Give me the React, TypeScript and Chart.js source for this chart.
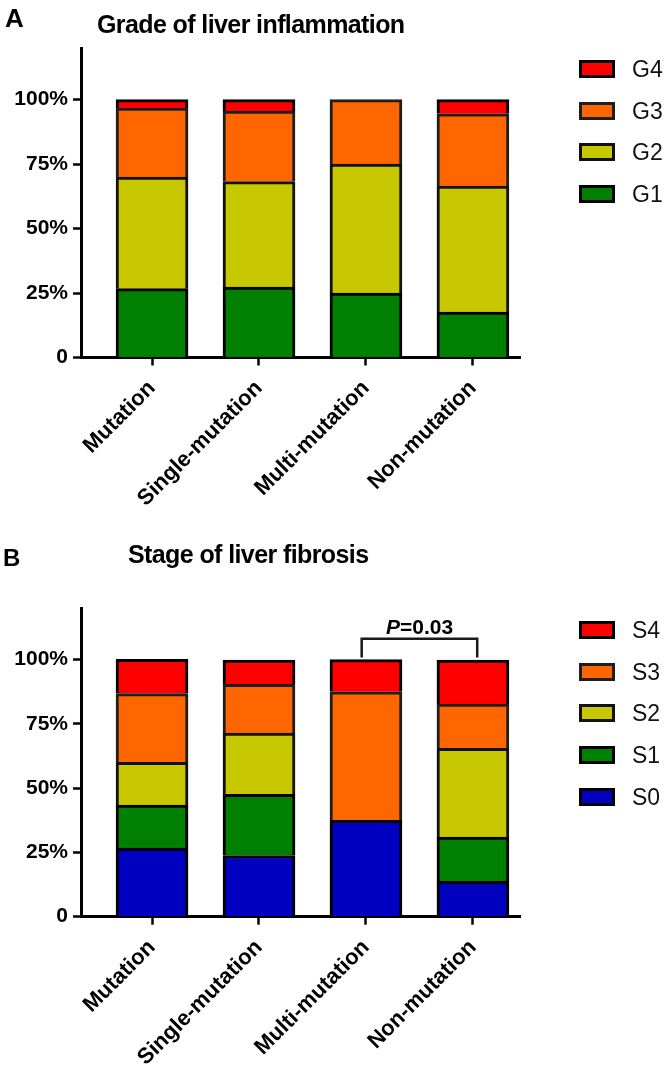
import React, { useEffect, useRef } from "react";
import { Chart, registerables } from "chart.js";

Chart.register(...registerables);

const categories = ["Mutation", "Single-mutation", "Multi-mutation", "Non-mutation"];
const yTickValues = [0, 25, 50, 75, 100];

// Panel A: grade of liver inflammation (%)
const gradeLabels = ["G1", "G2", "G3", "G4"];
const gradeG1 = [26.7, 27.3, 25.0, 17.6];
const gradeG2 = [43.3, 40.9, 50.0, 48.9];
const gradeG3 = [26.7, 27.3, 25.0, 28.0];
const gradeG4 = [3.3, 4.5, 0, 5.5];

// Panel B: stage of liver fibrosis (%)
const stageLabels = ["S0", "S1", "S2", "S3", "S4"];
const stageS0 = [26.7, 23.8, 37.5, 13.8];
const stageS1 = [16.7, 23.8, 0, 17.2];
const stageS2 = [16.7, 23.8, 0, 34.5];
const stageS3 = [26.7, 19.0, 50.0, 17.2];
const stageS4 = [13.3, 9.5, 12.5, 17.2];

const pValueText = "=0.03";

const RED = "#ff0000";
const ORANGE = "#ff6600";
const YELLOW = "#c8c800";
const GREEN = "#008000";
const BLUE = "#0000c0";

const gradeColors = [GREEN, YELLOW, ORANGE, RED];
const stageColors = [BLUE, GREEN, YELLOW, ORANGE, RED];
const borderCols: Record<string, string> = {
  [RED]: "#000000",
  [ORANGE]: "#1e1e1e",
  [YELLOW]: "#111111",
  [GREEN]: "#000000",
  [BLUE]: "#000000",
};

const FONT = '"Liberation Sans", Arial, Helvetica, sans-serif';

function makeDatasets(labels: string[], series: number[][], colors: string[]) {
  return labels.map((lab, k) => ({
    label: lab,
    data: series[k].map((v, i) => ({ x: i, y: v })),
    backgroundColor: colors[k],
    borderColor: borderCols[colors[k]],
    borderWidth: 3,
    barThickness: 72,
  }));
}

function makeConfig(datasets: any[], padTop: number, xHeight: number, extraPlugins: any[]) {
  return {
    type: "bar" as const,
    data: { datasets },
    plugins: extraPlugins,
    options: {
      animation: false,
      responsive: false,
      maintainAspectRatio: false,
      layout: { padding: { top: padTop, right: 146, left: 0, bottom: 0 } },
      plugins: { legend: { display: false }, title: { display: false }, tooltip: { enabled: false } },
      scales: {
        x: {
          type: "linear",
          min: -0.664,
          max: 3.44,
          stacked: true,
          offset: false,
          afterBuildTicks: (s: any) => {
            s.ticks = categories.map((_, i) => ({ value: i }));
          },
          afterFit: (s: any) => {
            s.height = xHeight;
          },
          grid: { display: true, offset: false, drawOnChartArea: false, drawTicks: true, tickLength: 8, tickWidth: 2.5, tickColor: "#000" },
          border: { display: true, color: "#000", width: 3 },
          ticks: {
            autoSkip: false,
            maxRotation: 45,
            minRotation: 45,
            padding: 10,
            color: "#000",
            font: { family: FONT, size: 22, weight: "bold" },
            callback: (v: any) => categories[Math.round(v)] ?? "",
          },
        },
        y: {
          type: "linear",
          min: 0,
          max: 120,
          stacked: true,
          afterBuildTicks: (s: any) => {
            s.ticks = yTickValues.map((v) => ({ value: v }));
          },
          afterFit: (s: any) => {
            s.width = 81;
          },
          grid: { display: true, drawOnChartArea: false, drawTicks: true, tickLength: 8, tickWidth: 2.5, tickColor: "#000" },
          border: { display: true, color: "#000", width: 3 },
          ticks: {
            padding: 5,
            color: "#000",
            font: { family: FONT, size: 21, weight: "bold" },
            callback: (v: any) => (v === 0 ? "0" : v + "%"),
          },
        },
      },
    },
  };
}

const bracketPlugin = {
  id: "pBracket",
  afterDatasetsDraw(chart: any) {
    const xs = chart.scales.x;
    const ys = chart.scales.y;
    const x1 = xs.getPixelForValue(2 - 0.04);
    const x2 = xs.getPixelForValue(3 + 0.04);
    const yTop = ys.getPixelForValue(108.2);
    const yBot = ys.getPixelForValue(100.9);
    const ctx = chart.ctx;
    ctx.save();
    ctx.strokeStyle = "#1a1a1a";
    ctx.lineWidth = 2.5;
    ctx.beginPath();
    ctx.moveTo(x1, yBot);
    ctx.lineTo(x1, yTop);
    ctx.lineTo(x2, yTop);
    ctx.lineTo(x2, yBot);
    ctx.stroke();
    ctx.restore();
  },
};

function Legend({ labels, colors, top }: { labels: string[]; colors: string[]; top: number }) {
  const items = labels.map((l, i) => ({ l, c: colors[i] })).reverse();
  return (
    <>
      {items.map((it, idx) => (
        <div
          key={it.l}
          style={{ position: "absolute", left: 579, top: top + idx * 41.7 - 9, height: 18, display: "flex", alignItems: "center" }}
        >
          <span
            style={{
              display: "inline-block",
              width: 36,
              height: 18,
              boxSizing: "border-box",
              border: "3px solid " + borderCols[it.c],
              background: it.c,
            }}
          />
          <span
            style={{
              position: "absolute",
              left: 53,
              top: 0,
              lineHeight: "18px",
              fontFamily: FONT,
              fontSize: 23,
              color: "#111",
              whiteSpace: "nowrap",
            }}
          >
            {it.l}
          </span>
        </div>
      ))}
    </>
  );
}

export default function App() {
  const refA = useRef<HTMLCanvasElement | null>(null);
  const refB = useRef<HTMLCanvasElement | null>(null);

  useEffect(() => {
    const chartA = new Chart(
      refA.current as HTMLCanvasElement,
      makeConfig(makeDatasets(gradeLabels, [gradeG1, gradeG2, gradeG3, gradeG4], gradeColors), 48, 530 - 357.5, []) as any
    );
    const chartB = new Chart(
      refB.current as HTMLCanvasElement,
      makeConfig(
        makeDatasets(stageLabels, [stageS0, stageS1, stageS2, stageS3, stageS4], stageColors),
        608.3 - 530,
        542 - 916.7 + 530,
        [bracketPlugin]
      ) as any
    );
    return () => {
      chartA.destroy();
      chartB.destroy();
    };
  }, []);

  const heading = (text: string, left: number, top: number, size: number, spacing = 0) => (
    <div
      style={{
        position: "absolute",
        left,
        top,
        fontFamily: FONT,
        fontWeight: "bold",
        fontSize: size,
        lineHeight: size + "px",
        letterSpacing: spacing,
        color: "#000",
        whiteSpace: "nowrap",
      }}
    >
      {text}
    </div>
  );

  return (
    <div style={{ position: "absolute", left: 0, top: 0, width: 666, height: 1072, background: "#fff", overflow: "hidden" }}>
      <canvas ref={refA} width={666} height={530} style={{ position: "absolute", left: 0, top: 0, display: "block" }} />
      <canvas ref={refB} width={666} height={542} style={{ position: "absolute", left: 0, top: 530, display: "block" }} />
      {heading("A", 5, 5, 26)}
      {heading("Grade of liver inflammation", 97, 12, 25, -0.6)}
      {heading("B", 3, 546, 24)}
      {heading("Stage of liver fibrosis", 128, 542, 25, -0.6)}
      <div
        style={{
          position: "absolute",
          left: 419.5,
          top: 615.5,
          transform: "translateX(-50%)",
          fontFamily: FONT,
          fontWeight: "bold",
          fontSize: 21,
          lineHeight: "21px",
          color: "#000",
          whiteSpace: "nowrap",
        }}
      >
        <i>P</i>
        {pValueText}
      </div>
      <Legend labels={gradeLabels} colors={gradeColors} top={69} />
      <Legend labels={stageLabels} colors={stageColors} top={629.8} />
    </div>
  );
}
